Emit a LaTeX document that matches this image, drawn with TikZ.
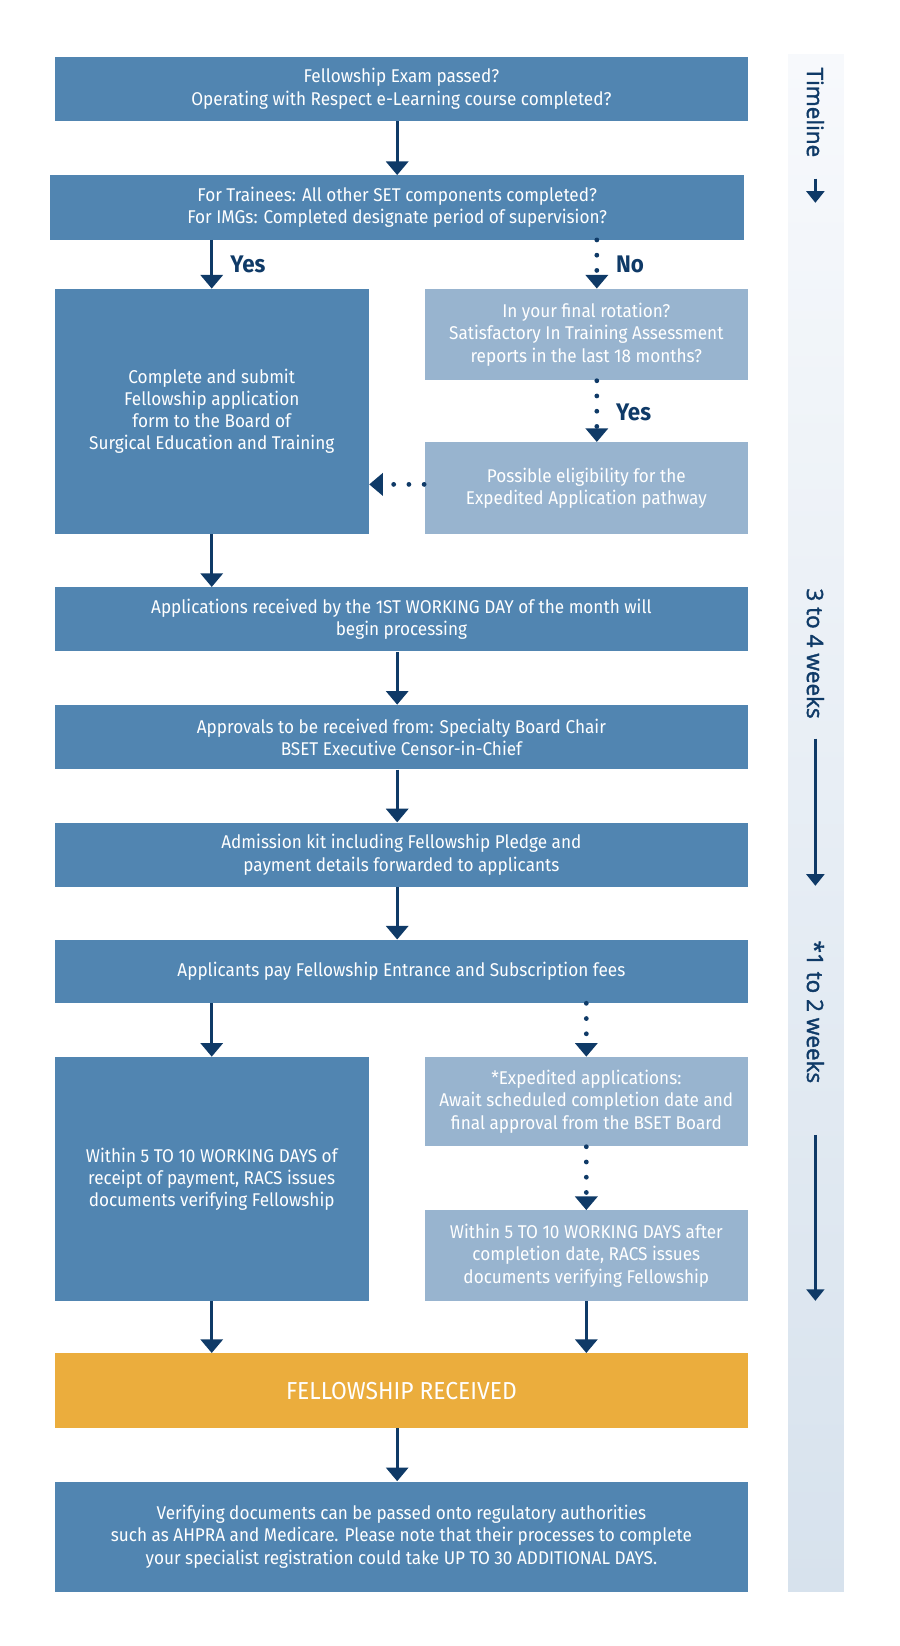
\documentclass[tikz,border=0pt]{standalone}
\usepackage{fontspec}
\setmainfont{Fira Sans}[FakeStretch=0.93]
\newfontfamily\tlfont{Open Sans}[FakeBold=1.6]
\usetikzlibrary{arrows.meta}
\definecolor{boxblue}{HTML}{5185B1}
\definecolor{boxlight}{HTML}{98B4CF}
\definecolor{boxgold}{HTML}{EBAD3D}
\definecolor{navy}{HTML}{0F3A67}
\definecolor{bartop}{HTML}{F7F9FC}
\definecolor{barbot}{HTML}{D7E2ED}

\begin{document}
\begin{tikzpicture}[
  box/.style={fill=boxblue, text=white, align=center, inner sep=0pt, font=\fontsize{10}{12}\selectfont},
  lbox/.style={box, fill=boxlight},
  solidarr/.style={draw=navy, line width=1.7pt, -{Triangle[width=0.42cm,length=0.26cm]}},
  dotarr/.style={draw=navy, line width=2.6pt, line cap=round, dash pattern=on 0pt off 0.29cm, -{Triangle[width=0.42cm,length=0.26cm]}},
  answer/.style={text=navy, anchor=west, inner sep=0pt, font=\fontsize{13}{15}\selectfont\bfseries},
  tltext/.style={text=navy, rotate=-90, inner sep=0pt, font=\tlfont\fontsize{12.2}{14}\selectfont},
  tlarr/.style={draw=navy, line width=1.3pt, -{Triangle[width=0.34cm,length=0.22cm]}}
]
	\useasboundingbox (0,0) rectangle (17.13,-31.33);
	% timeline bar
	\shade [top color=bartop, bottom color=barbot] (15.0,-1.04) rectangle (16.06,-30.30);
	\node [tltext] (tlhead) at (15.52,-2.14) {Timeline};
	\node [tltext] (tlmid) at (15.52,-12.44) {3 to 4 weeks};
	\node [tltext] (tlend) at (15.52,-19.26) {*1 to 2 weeks};
	\coordinate (tla) at (15.52,-3.40);
	\coordinate (tlb) at (15.52,-3.86);
	\coordinate (tlc) at (15.52,-14.06);
	\coordinate (tld) at (15.52,-16.86);
	\coordinate (tle) at (15.52,-21.60);
	\coordinate (tlf) at (15.52,-24.76);
	\draw [tlarr] (tla) -- (tlb);
	\draw [tlarr] (tlc) -- (tld);
	\draw [tlarr] (tle) -- (tlf);

	% boxes
	\node [box, minimum width=13.2cm, minimum height=1.22cm] (exam) at (7.64,-1.69)
		{Fellowship Exam passed?\\Operating with Respect e-Learning course completed?};
	\node [box, minimum width=13.2cm, minimum height=1.22cm] (set) at (7.56,-3.95)
		{For Trainees: All other SET components completed?\\For IMGs: Completed designate period of supervision?};
	\node [box, minimum width=5.98cm, minimum height=4.66cm] (submit) at (4.03,-7.83)
		{Complete and submit\\Fellowship application\\form to the Board of\\Surgical Education and Training};
	\node [lbox, minimum width=6.16cm, minimum height=1.74cm] (rotation) at (11.16,-6.37)
		{In your final rotation?\\Satisfactory In Training Assessment\\reports in the last 18 months?};
	\node [lbox, minimum width=6.16cm, minimum height=1.74cm] (expedited) at (11.16,-9.29)
		{Possible eligibility for the\\Expedited Application pathway};
	\node [box, minimum width=13.2cm, minimum height=1.22cm] (received) at (7.64,-11.79)
		{Applications received by the 1ST WORKING DAY of the month will\\begin processing};
	\node [box, minimum width=13.2cm, minimum height=1.22cm] (approvals) at (7.64,-14.03)
		{Approvals to be received from: Specialty Board Chair\\BSET Executive Censor-in-Chief};
	\node [box, minimum width=13.2cm, minimum height=1.22cm] (kit) at (7.64,-16.27)
		{Admission kit including Fellowship Pledge and\\payment details forwarded to applicants};
	\node [box, minimum width=13.2cm, minimum height=1.20cm] (fees) at (7.64,-18.49)
		{Applicants pay Fellowship Entrance and Subscription fees};
	\node [box, minimum width=5.98cm, minimum height=4.64cm] (issue) at (4.03,-22.44)
		{Within 5 TO 10 WORKING DAYS of\\receipt of payment, RACS issues\\documents verifying Fellowship};
	\node [lbox, minimum width=6.16cm, minimum height=1.70cm] (await) at (11.16,-20.97)
		{*Expedited applications:\\Await scheduled completion date and\\final approval from the BSET Board};
	\node [lbox, minimum width=6.16cm, minimum height=1.72cm] (issuexp) at (11.16,-23.90)
		{Within 5 TO 10 WORKING DAYS after\\completion date, RACS issues\\documents verifying Fellowship};
	\node [box, fill=boxgold, minimum width=13.2cm, minimum height=1.42cm, font=\fontsize{13.3}{16}\selectfont] (fellow) at (7.64,-26.47)
		{FELLOWSHIP RECEIVED};
	\node [box, minimum width=13.2cm, minimum height=2.10cm] (verify) at (7.64,-29.25)
		{Verifying documents can be passed onto regulatory authorities\\such as AHPRA and Medicare. Please note that their processes to complete\\your specialist registration could take UP TO 30 ADDITIONAL DAYS.};

	% connectors
	\draw [solidarr] (exam.south -| set.north) -- (set.north);
	\draw [solidarr] (set.south -| submit.north) -- (submit.north);
	\node [answer] (yes1) at (4.38,-5.04) {Yes};
	\draw [dotarr] ([xshift=0.2cm]rotation.north |- set.south) -- ([xshift=0.2cm]rotation.north);
	\node [answer] (no1) at (11.72,-5.04) {No};
	\draw [dotarr] ([xshift=0.2cm]rotation.south) -- ([xshift=0.2cm]expedited.north);
	\node [answer] (yes2) at (11.72,-7.84) {Yes};
	\draw [dotarr] ([yshift=0.07cm]expedited.west) -- ([yshift=0.07cm]expedited.west -| submit.east);
	\draw [solidarr] (submit.south) -- (submit.south |- received.north);
	\draw [solidarr] (received.south -| set.north) -- (set.north |- approvals.north);
	\draw [solidarr] (approvals.south -| set.north) -- (set.north |- kit.north);
	\draw [solidarr] (kit.south -| set.north) -- (set.north |- fees.north);
	\draw [solidarr] (fees.south -| issue.north) -- (issue.north);
	\draw [dotarr] (fees.south -| await.north) -- (await.north);
	\draw [dotarr] (await.south) -- (issuexp.north);
	\draw [solidarr] (issue.south) -- (issue.south |- fellow.north);
	\draw [solidarr] (issuexp.south) -- (issuexp.south |- fellow.north);
	\draw [solidarr] (fellow.south -| set.north) -- (set.north |- verify.north);
\end{tikzpicture}
\end{document}
